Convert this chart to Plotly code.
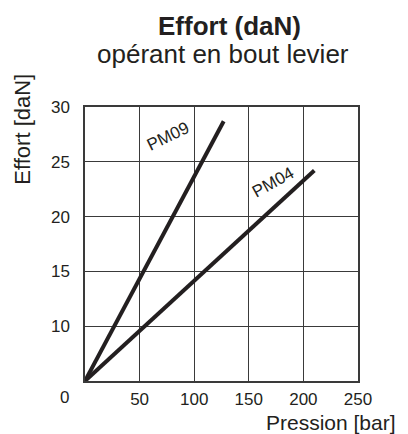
import plotly.graph_objects as go

# values
pressure_pm09 = [0, 127]
effort_pm09 = [5, 28.7]
pressure_pm04 = [0, 210]
effort_pm04 = [5, 24.2]

# the bottom row of the grid is as tall as the others, so the corner
# sits at 5 on a linear axis even though it is labelled "0"
y_ticks = [10, 15, 20, 25, 30]
x_ticks = [50, 100, 150, 200, 250]

FONT = "Liberation Sans, Arial, sans-serif"
INK = "#231f20"
GRID = "#3a3a3a"

fig = go.Figure()
for name, x, y in [("PM09", pressure_pm09, effort_pm09), ("PM04", pressure_pm04, effort_pm04)]:
    fig.add_trace(
        go.Scatter(x=x, y=y, name=name, mode="lines", line=dict(color=INK, width=4))
    )

# curve labels, rotated along the lines
fig.add_annotation(x=76, y=27.3, text="PM09", textangle=-26, showarrow=False,
                   font=dict(size=17, color=INK))
fig.add_annotation(x=172, y=23.1, text="PM04", textangle=-29, showarrow=False,
                   font=dict(size=17, color=INK))
# shared origin label
fig.add_annotation(x=0, y=5, text="0", showarrow=False, xanchor="right", yanchor="top",
                   xshift=-14, yshift=-5, font=dict(size=17, color=INK))

# titles
fig.add_annotation(xref="paper", yref="paper", x=0.531, y=1.297, text="<b>Effort (daN)</b>",
                   showarrow=False, yanchor="middle", font=dict(size=26, color=INK))
fig.add_annotation(xref="paper", yref="paper", x=0.504, y=1.195, text="opérant en bout levier",
                   showarrow=False, yanchor="middle", font=dict(size=26, color=INK))
fig.add_annotation(xref="paper", yref="paper", x=-0.23, y=1.128, text="Effort [daN]",
                   textangle=-90, showarrow=False, xanchor="center", yanchor="top",
                   font=dict(size=22, color=INK))
fig.add_annotation(xref="paper", yref="paper", x=1.147, y=-0.152, text="Pression [bar]",
                   showarrow=False, xanchor="right", yanchor="middle",
                   font=dict(size=21, color=INK))

axis_common = dict(
    showgrid=True, gridcolor=GRID, gridwidth=1.3,
    showline=True, linecolor=GRID, linewidth=1.5, mirror=True,
    zeroline=False, ticks="", tickfont=dict(size=17, color=INK),
)
fig.update_xaxes(range=[0, 250], tickvals=x_ticks, ticklabelstandoff=2, **axis_common)
fig.update_yaxes(range=[5, 30], tickvals=y_ticks, ticklabelstandoff=10, **axis_common)

# the page body adds 8px around the figure, so size and margins allow for it
fig.update_layout(
    width=400, height=426, autosize=False,
    margin=dict(l=77, r=50, t=99, b=53),
    showlegend=False,
    plot_bgcolor="white", paper_bgcolor="white",
    font=dict(family=FONT, color=INK),
)
fig.write_html("out.html")
